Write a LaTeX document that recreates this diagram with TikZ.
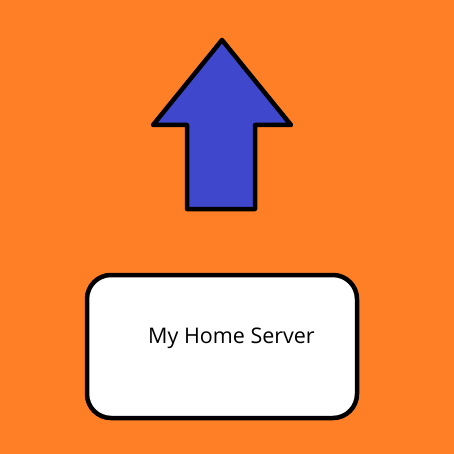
\documentclass[tikz,border=0pt]{standalone}
\usepackage{fontspec}
\setmainfont{Open Sans}
\definecolor{bgorange}{HTML}{FF7F27}
\definecolor{arrowblue}{HTML}{3F48CC}
\begin{document}
\begin{tikzpicture}[x=1pt,y=-1pt,
  outline/.style={draw=black,line width=4.5pt,line join=round}]
\fill[bgorange] (0,0) rectangle (454,454);
\useasboundingbox (0,0) rectangle (454,454);
\draw[outline,fill=arrowblue] (222,40) -- (291,125) -- (255,125) -- (255,209) -- (187,209) -- (187,125) -- (153,125) -- cycle;
\draw[outline,fill=white,rounded corners=24pt] (87,275) rectangle (357,418);
\node[anchor=base west,inner sep=0pt,font=\fontsize{21.5}{24}\selectfont] (label) at (148,343) {My Home Server};
\end{tikzpicture}
\end{document}
